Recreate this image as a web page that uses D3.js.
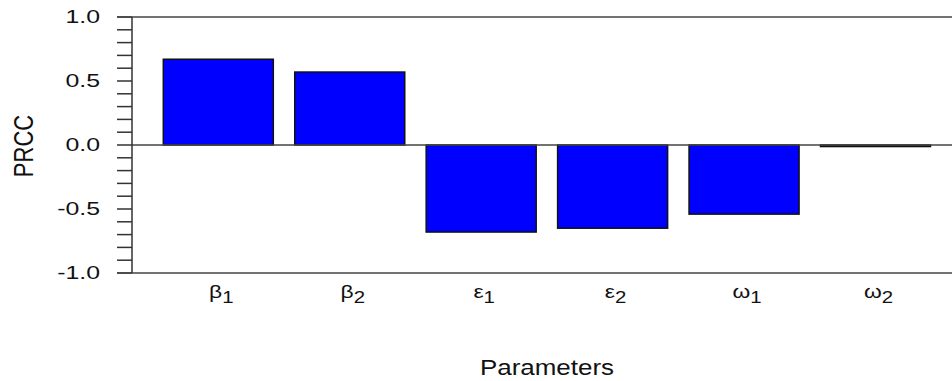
<!DOCTYPE html>
<html>
<head>
<meta charset="utf-8">
<script src="https://cdn.jsdelivr.net/npm/d3@7"></script>
<style>
  body { margin: 0; background: #fff; }
  text { font-family: Arial, "Liberation Sans", sans-serif; fill: #111; }
</style>
</head>
<body>
<div id="chart"></div>
<script>
// PRCC values per parameter
const paramLetters = ["β", "β", "ε", "ε", "ω", "ω"];
const paramSubs = ["1", "2", "1", "2", "1", "2"];
const prccValues = [0.67, 0.57, -0.68, -0.65, -0.54, -0.012];
const yTicks = [-1.0, -0.5, 0.0, 0.5, 1.0];

const W = 952, H = 381;
const margin = { top: 17, left: 132, bottom: 108 };
const plotH = H - margin.top - margin.bottom;

const svg = d3.select("#chart").append("svg")
    .attr("width", W)
    .attr("height", H);

const g = svg.append("g")
    .attr("transform", `translate(${margin.left},${margin.top})`);

const ids = prccValues.map((d, i) => i);

// bars start at ~163 and end at ~930 in page coords
const xScale = d3.scaleBand()
    .domain(ids)
    .range([31.3, 798.5])
    .paddingInner(0.163)
    .paddingOuter(0);

const yScale = d3.scaleLinear()
    .domain([-1, 1])
    .range([plotH, 0]);

// minor ticks every 0.1
const minor = d3.range(-10, 11).map(d => d / 10);
g.selectAll("line.tick")
    .data(minor)
    .enter()
    .append("line")
    .attr("x1", -15)
    .attr("x2", 0)
    .attr("y1", d => yScale(d))
    .attr("y2", d => yScale(d))
    .style("stroke", "#333")
    .style("stroke-width", 1.5);

// tick labels (stretched horizontally like the source image)
g.selectAll("text.ylab")
    .data(yTicks)
    .enter()
    .append("text")
    .attr("class", "ylab")
    .attr("text-anchor", "end")
    .attr("dominant-baseline", "central")
    .attr("transform", d => `translate(-32,${yScale(d)}) scale(1.38,1)`)
    .style("font-size", "18px")
    .text(d => d3.format(".1f")(d).replace("−", "-"));

// bars
g.selectAll("rect.bar")
    .data(prccValues)
    .enter()
    .append("rect")
    .attr("class", "bar")
    .attr("x", (d, i) => xScale(i))
    .attr("width", xScale.bandwidth())
    .attr("y", d => yScale(Math.max(0, d)))
    .attr("height", d => Math.max(1.5, Math.abs(yScale(d) - yScale(0))))
    .style("fill", "#0000ff")
    .style("stroke", "#111")
    .style("stroke-width", 1.5);

// frame lines: top, bottom, zero, left axis
const lines = [
    { x1: -15, x2: W, y: yScale(1) },
    { x1: -15, x2: W, y: yScale(-1) },
    { x1: 0, x2: W, y: yScale(0) }
];
g.selectAll("line.frame")
    .data(lines)
    .enter()
    .append("line")
    .attr("x1", d => d.x1)
    .attr("x2", d => d.x2)
    .attr("y1", d => d.y)
    .attr("y2", d => d.y)
    .style("stroke", "#444")
    .style("stroke-width", 1.5);

g.append("line")
    .attr("x1", 0).attr("x2", 0)
    .attr("y1", yScale(1)).attr("y2", yScale(-1))
    .style("stroke", "#333")
    .style("stroke-width", 1.5);

// x labels with subscripts
const xl = g.selectAll("text.xlab")
    .data(ids)
    .enter()
    .append("text")
    .attr("class", "xlab")
    .attr("text-anchor", "middle")
    .attr("transform", i => `translate(${xScale(i) + xScale.bandwidth() / 2 + 3},${plotH + 25}) scale(1.2,1)`)
    .style("font-size", "19px");
xl.append("tspan").text(i => paramLetters[i]);
xl.append("tspan")
    .attr("dy", 5)
    .style("font-size", "17px")
    .text(i => paramSubs[i]);

// axis titles
svg.append("text")
    .attr("text-anchor", "middle")
    .attr("dominant-baseline", "central")
    .attr("transform", `translate(547,367) scale(1.18,1)`)
    .style("font-size", "22px")
    .text("Parameters");

svg.append("text")
    .attr("text-anchor", "middle")
    .attr("dominant-baseline", "central")
    .attr("transform", `translate(23,146) rotate(-90) scale(1,1.27)`)
    .style("font-size", "22px")
    .text("PRCC");
</script>
</body>
</html>
